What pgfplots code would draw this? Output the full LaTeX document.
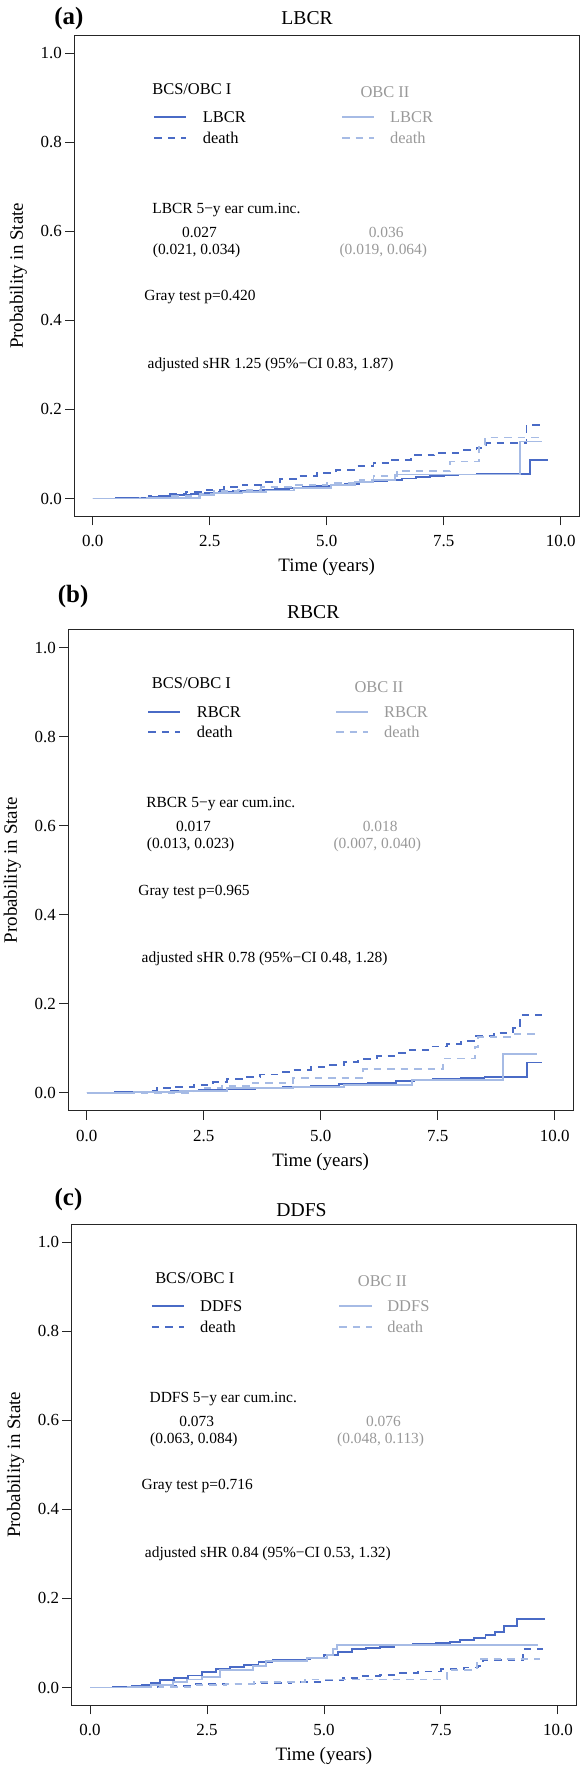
\documentclass[border=0pt]{standalone}
\usepackage{fontspec}
\setmainfont{Liberation Serif}
\usepackage{pgfplots}
\pgfplotsset{compat=1.18}
\definecolor{dk}{HTML}{4A6BC6}
\definecolor{lt}{HTML}{A6BBE5}
\definecolor{gt}{HTML}{999999}
\tikzset{
 dd/.style={dash pattern=on 7.5bp off 6bp},
 ann/.style={font=\fontsize{15.5}{16}\selectfont, inner sep=0pt},
 leg/.style={font=\fontsize{16.5}{17}\selectfont, inner sep=0pt},
}
\pgfplotsset{
 km/.style={
  scale only axis, width=505.4bp, height=480.9bp,
  xmin=-0.4, xmax=10.4, ymin=-0.04, ymax=1.04,
  axis line style={line width=1bp, black!85},
  xtick={0,2.5,5,7.5,10}, ytick={0,0.2,0.4,0.6,0.8,1.0},
  xticklabels={0.0,2.5,5.0,7.5,10.0}, yticklabels={0.0,0.2,0.4,0.6,0.8,1.0},
  xtick pos=left, ytick pos=left,
  tick align=outside, major tick length=9bp,
  tick style={line width=1bp, black!85},
  tick label style={font=\fontsize{17}{17}\selectfont},
  xticklabel style={anchor=center, inner sep=0pt, yshift=-16bp},
  yticklabel style={anchor=east, inner sep=0pt, xshift=-3bp},
  label style={font=\fontsize{19}{19}\selectfont},
  xlabel={Time (years)}, ylabel={Probability in State},
  xlabel style={at={(axis description cs:0.5,-0.106)}, anchor=center},
  ylabel style={at={(axis description cs:-0.1102,0.5)}, anchor=center},
  clip=false,
  every axis plot/.append style={const plot, no marks, line width=1.9bp},
 },
}
\newcommand{\annot}[8]{%
 \node[leg, anchor=west] at (axis cs:#8,0.92) {BCS/OBC I};
 \node[leg, anchor=west, text=gt] at (axis cs:5.72,0.912) {OBC II};
 \addplot[dk, forget plot] coordinates {(1.32,0.856) (2.0,0.856)};
 \addplot[dk, dd, forget plot] coordinates {(1.32,0.81) (2.0,0.81)};
 \addplot[lt, forget plot] coordinates {(5.33,0.856) (6.02,0.856)};
 \addplot[lt, dd, forget plot] coordinates {(5.33,0.81) (6.02,0.81)};
 \node[leg, anchor=west] at (axis cs:2.35,0.856) {#1};
 \node[leg, anchor=west] at (axis cs:2.35,0.81) {death};
 \node[leg, anchor=west, text=gt] at (axis cs:6.35,0.856) {#1};
 \node[leg, anchor=west, text=gt] at (axis cs:6.35,0.81) {death};
 \node[ann, anchor=west] at (axis cs:1.27,0.648) {#1 5−y ear cum.inc.};
 \node[ann] at (axis cs:2.28,0.598) {#2};
 \node[ann] at (axis cs:2.22,0.556) {#3};
 \node[ann, text=gt] at (axis cs:6.27,0.598) {#4};
 \node[ann, text=gt] at (axis cs:6.21,0.556) {#5};
 \node[ann, anchor=west] at (axis cs:1.10,0.452) {Gray test p=#6};
 \node[ann, anchor=west] at (axis cs:1.17,0.30) {adjusted sHR #7};
}
\begin{document}
\begin{tikzpicture}
\useasboundingbox (0,0) rectangle (584bp,-1769bp);
% ---------------- (a)
\begin{axis}[km, at={(74bp,-516.3bp)}, anchor=south west]
\node[font=\fontsize{25}{25}\selectfont\bfseries] at (axis cs:-0.51,1.078) {(a)};
\node[font=\fontsize{19.7}{20}\selectfont] at (axis cs:4.58,1.078) {LBCR};
\annot{LBCR}{0.027}{(0.021, 0.034)}{0.036}{(0.019, 0.064)}{0.420}{1.25 (95\%−CI 0.83, 1.87)}{1.27}
\addplot[dk] coordinates {(0,0) (0.5,0.001) (0.9,0.002) (1.2,0.004) (1.5,0.006) (1.8,0.008) (2.1,0.010) (2.4,0.012) (2.7,0.014) (3.0,0.016) (3.3,0.018) (3.6,0.020) (3.9,0.022) (4.2,0.024) (4.5,0.026) (4.8,0.028) (5.1,0.030) (5.4,0.033) (5.7,0.036) (6.0,0.039) (6.3,0.042) (6.6,0.045) (6.9,0.048) (7.2,0.051) (7.5,0.053) (7.8,0.054) (8.2,0.055) (9.35,0.086) (9.72,0.086)};
\addplot[dk, dd] coordinates {(0,0) (0.8,0.002) (1.2,0.005) (1.6,0.010) (2.0,0.014) (2.4,0.019) (2.8,0.025) (3.2,0.031) (3.6,0.037) (4.0,0.044) (4.4,0.051) (4.8,0.058) (5.2,0.065) (5.6,0.072) (6.0,0.079) (6.4,0.087) (6.8,0.097) (7.3,0.103) (7.9,0.108) (8.2,0.113) (8.4,0.124) (9.27,0.165) (9.56,0.165)};
\addplot[lt] coordinates {(0,0) (1.2,0.002) (2.3,0.008) (2.6,0.012) (3.2,0.015) (3.7,0.018) (4.3,0.024) (5.1,0.030) (5.6,0.037) (6.0,0.042) (6.45,0.054) (9.13,0.128) (9.61,0.128)};
\addplot[lt, dd] coordinates {(0,0) (1.0,0.002) (1.6,0.006) (2.3,0.010) (2.6,0.016) (3.1,0.020) (3.6,0.025) (4.3,0.030) (5.0,0.034) (5.7,0.042) (6.0,0.050) (6.5,0.0625) (7.64,0.083) (8.26,0.12) (8.38,0.137) (9.56,0.137)};
\end{axis}
% ---------------- (b)
\begin{axis}[km, at={(68bp,-1110.6bp)}, anchor=south west]
\node[font=\fontsize{25}{25}\selectfont\bfseries] at (axis cs:-0.29,1.114) {(b)};
\node[font=\fontsize{19.7}{20}\selectfont] at (axis cs:4.84,1.080) {RBCR};
\annot{RBCR}{0.017}{(0.013, 0.023)}{0.018}{(0.007, 0.040)}{0.965}{0.78 (95\%−CI 0.48, 1.28)}{1.39}
\addplot[dk] coordinates {(0,0) (0.6,0.001) (1.2,0.002) (1.8,0.004) (2.4,0.006) (3.0,0.009) (3.6,0.011) (4.2,0.014) (4.8,0.016) (5.4,0.019) (6.0,0.022) (6.6,0.026) (7.0,0.029) (7.4,0.031) (8.0,0.033) (8.5,0.036) (9.4,0.068) (9.72,0.068)};
\addplot[dk, dd] coordinates {(0,0) (0.8,0.001) (1.3,0.004) (1.5,0.010) (1.9,0.013) (2.3,0.017) (2.7,0.024) (3.0,0.030) (3.4,0.036) (3.7,0.041) (4.1,0.046) (4.4,0.051) (4.8,0.057) (5.1,0.062) (5.5,0.069) (5.8,0.076) (6.2,0.082) (6.6,0.089) (6.9,0.096) (7.3,0.104) (7.7,0.110) (8.0,0.116) (8.3,0.128) (8.7,0.134) (9.1,0.145) (9.26,0.175) (9.72,0.175)};
\addplot[lt] coordinates {(0,0) (1.0,0.002) (2.0,0.005) (3.0,0.010) (4.4,0.014) (5.5,0.017) (6.95,0.028) (8.9,0.087) (9.62,0.087)};
\addplot[lt, dd] coordinates {(0,0) (2.3,0.003) (2.5,0.010) (2.9,0.015) (3.56,0.023) (4.4,0.034) (5.91,0.053) (7.62,0.077) (8.3,0.102) (8.37,0.126) (9.12,0.132) (9.58,0.132)};
\end{axis}
% ---------------- (c)
\begin{axis}[km, at={(71.3bp,-1705.3bp)}, anchor=south west]
\node[font=\fontsize{25}{25}\selectfont\bfseries] at (axis cs:-0.46,1.095) {(c)};
\node[font=\fontsize{19.7}{20}\selectfont] at (axis cs:4.52,1.072) {DDFS};
\annot{DDFS}{0.073}{(0.063, 0.084)}{0.076}{(0.048, 0.113)}{0.716}{0.84 (95\%−CI 0.53, 1.32)}{1.39}
\addplot[dk] coordinates {(0,0) (0.5,0.001) (0.9,0.003) (1.1,0.006) (1.3,0.011) (1.5,0.017) (1.8,0.022) (2.1,0.027) (2.4,0.034) (2.7,0.041) (3.0,0.046) (3.3,0.051) (3.6,0.058) (3.9,0.062) (4.3,0.063) (4.7,0.067) (5.0,0.073) (5.3,0.080) (5.6,0.086) (5.9,0.089) (6.2,0.091) (6.5,0.095) (6.9,0.097) (7.4,0.099) (7.7,0.103) (7.9,0.107) (8.2,0.111) (8.45,0.117) (8.65,0.125) (8.85,0.138) (9.12,0.153) (9.72,0.153)};
\addplot[dk, dd] coordinates {(0,0) (0.8,0.001) (1.5,0.003) (2.2,0.007) (2.9,0.009) (3.6,0.011) (4.3,0.013) (5.0,0.017) (5.4,0.021) (5.8,0.026) (6.2,0.029) (6.6,0.033) (7.0,0.036) (7.5,0.041) (8.0,0.045) (8.3,0.048) (8.4,0.062) (9.26,0.087) (9.69,0.087)};
\addplot[lt] coordinates {(0,0) (0.8,0.002) (1.3,0.006) (1.78,0.013) (2.07,0.018) (2.4,0.024) (2.78,0.039) (3.49,0.048) (3.77,0.06) (4.63,0.066) (5.06,0.073) (5.2,0.086) (5.27,0.095) (9.58,0.095)};
\addplot[lt, dd] coordinates {(0,0) (1.5,0.002) (2.2,0.005) (2.9,0.008) (3.5,0.012) (4.6,0.018) (7.62,0.039) (8.26,0.064) (9.62,0.064)};
\end{axis}
\end{tikzpicture}
\end{document}
